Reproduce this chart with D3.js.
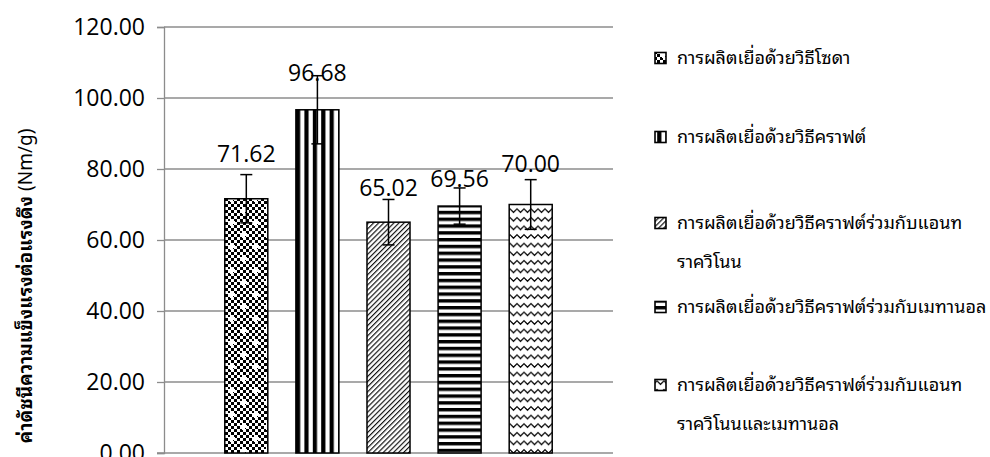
<!DOCTYPE html>
<html>
<head>
<meta charset="utf-8">
<script src="https://cdn.jsdelivr.net/npm/d3@7"></script>
<style>
  html, body { margin: 0; padding: 0; background: #fff; }
  svg { display: block; }
</style>
</head>
<body>
<div id="chart"></div>
<script>
// Pulping methods (one bar each)
const series = [
  "การผลิตเยื่อด้วยวิธีโซดา",
  "การผลิตเยื่อด้วยวิธีคราฟต์",
  "การผลิตเยื่อด้วยวิธีคราฟต์ร่วมกับแอนทราควิโนน",
  "การผลิตเยื่อด้วยวิธีคราฟต์ร่วมกับเมทานอล",
  "การผลิตเยื่อด้วยวิธีคราฟต์ร่วมกับแอนทราควิโนนและเมทานอล"
];
// Legend text as it wraps in the legend box
const legendLines = [
  ["การผลิตเยื่อด้วยวิธีโซดา"],
  ["การผลิตเยื่อด้วยวิธีคราฟต์"],
  ["การผลิตเยื่อด้วยวิธีคราฟต์ร่วมกับแอนท", "ราควิโนน"],
  ["การผลิตเยื่อด้วยวิธีคราฟต์ร่วมกับเมทานอล"],
  ["การผลิตเยื่อด้วยวิธีคราฟต์ร่วมกับแอนท", "ราควิโนนและเมทานอล"]
];
// Tensile index (Nm/g) and its standard deviation
const values = [71.62, 96.68, 65.02, 69.56, 70.00];
const errors = [6.8, 9.6, 6.4, 5.1, 7.0];
const yTicks = [0, 20, 40, 60, 80, 100, 120];
const yTitleThai = "ค่าดัชนีความแข็งแรงต่อแรงดึง";
const yTitleUnit = " (Nm/g)";

// Layout
const W = 990, H = 457;
const plot = { left: 164, right: 613, top: 27, bottom: 453 };
const labelLift = [37, 29, 26, 19, 33];   // value label baseline above bar top
const legendX = 655;
const legendY = [58, 137, 223, 307, 385];
const legendLineGap = 39;

const numFont = "'Open Sans', 'Liberation Sans', sans-serif";
const thaiFont = "'Noto Sans Thai Looped', 'Tlwg Typo', 'Loma', 'Garuda', 'Noto Sans Thai', 'Noto Sans', sans-serif";
const gridColor = "#8c8c8c";

const svg = d3.select("#chart").append("svg")
  .attr("width", W).attr("height", H);

// ---- fill patterns ----
const defs = svg.append("defs");

// 1: small checkerboard with white crosses
(function () {
  const p = defs.append("pattern").attr("id", "pat0")
    .attr("patternUnits", "userSpaceOnUse")
    .attr("x", 225).attr("y", 0)
    .attr("width", 24).attr("height", 24);
  p.append("rect").attr("width", 24).attr("height", 24).attr("fill", "#fff");
  for (let i = 0; i < 8; i++) {
    for (let j = 0; j < 8; j++) {
      if ((i + j) % 2 === 0) {
        p.append("rect").attr("x", i * 3).attr("y", j * 3)
          .attr("width", 3).attr("height", 3).attr("fill", "#000");
      }
    }
  }
  [[6, 6], [18, 18]].forEach(([cx, cy]) => {
    p.append("rect").attr("x", cx - 3).attr("y", cy - 1).attr("width", 7).attr("height", 3).attr("fill", "#fff");
    p.append("rect").attr("x", cx - 1).attr("y", cy - 3).attr("width", 3).attr("height", 7).attr("fill", "#fff");
  });
})();

// 2: wide vertical stripes
(function () {
  const p = defs.append("pattern").attr("id", "pat1")
    .attr("patternUnits", "userSpaceOnUse")
    .attr("x", 296).attr("y", 0)
    .attr("width", 8.4).attr("height", 8);
  p.append("rect").attr("width", 8.4).attr("height", 8).attr("fill", "#fff");
  p.append("rect").attr("x", 0).attr("width", 4.2).attr("height", 8).attr("fill", "#000");
})();

// 3: upward diagonal hatching
(function () {
  const p = defs.append("pattern").attr("id", "pat2")
    .attr("patternUnits", "userSpaceOnUse")
    .attr("width", 3.6).attr("height", 10)
    .attr("patternTransform", "rotate(45)");
  p.append("rect").attr("width", 3.6).attr("height", 10).attr("fill", "#fff");
  p.append("line").attr("x1", 0.6).attr("x2", 0.6).attr("y1", 0).attr("y2", 10)
    .attr("stroke", "#000").attr("stroke-width", 1.1);
})();

// 4: horizontal stripes
(function () {
  const p = defs.append("pattern").attr("id", "pat3")
    .attr("patternUnits", "userSpaceOnUse")
    .attr("x", 0).attr("y", 0)
    .attr("width", 8).attr("height", 6.8);
  p.append("rect").attr("width", 8).attr("height", 6.8).attr("fill", "#fff");
  p.append("rect").attr("y", 0).attr("width", 8).attr("height", 3.4).attr("fill", "#000");
})();

// 5: zigzag waves
(function () {
  const p = defs.append("pattern").attr("id", "pat4")
    .attr("patternUnits", "userSpaceOnUse")
    .attr("x", 510).attr("y", 0)
    .attr("width", 7).attr("height", 8.6);
  p.append("rect").attr("width", 7).attr("height", 8.6).attr("fill", "#fff");
  p.append("path").attr("d", "M-1,1.5 L0,2.5 L3.5,6 L7,2.5 L8,1.5")
    .attr("fill", "none").attr("stroke", "#000").attr("stroke-width", 1.3);
})();

// ---- scales ----
const x = d3.scaleBand().domain(series)
  .range([plot.left, plot.right])
  .paddingInner(0.395).paddingOuter(0.855);
const y = d3.scaleLinear().domain([0, 120]).range([plot.bottom, plot.top]);

// ---- gridlines ----
svg.append("g").selectAll("line").data(yTicks.filter(t => t > 0)).join("line")
  .attr("x1", plot.left).attr("x2", plot.right)
  .attr("y1", d => y(d)).attr("y2", d => y(d))
  .attr("stroke", gridColor).attr("stroke-width", 1.3);

// ---- y axis ----
const yAxis = svg.append("g").attr("transform", `translate(${plot.left},0)`)
  .call(d3.axisLeft(y).tickValues(yTicks).tickFormat(d3.format(".2f")).tickSize(7).tickPadding(12));
yAxis.select(".domain").attr("stroke", gridColor).attr("stroke-width", 1.3);
yAxis.selectAll(".tick line").attr("stroke", gridColor).attr("stroke-width", 1.3);
yAxis.selectAll(".tick text")
  .attr("font-family", numFont).attr("font-size", 23).attr("fill", "#000");

// ---- baseline ----
svg.append("line")
  .attr("x1", plot.left - 7).attr("x2", plot.right)
  .attr("y1", y(0)).attr("y2", y(0))
  .attr("stroke", gridColor).attr("stroke-width", 1.3);

// ---- bars ----
svg.append("g").selectAll("rect").data(series).join("rect")
  .attr("x", d => x(d))
  .attr("y", (d, i) => y(values[i]))
  .attr("width", x.bandwidth())
  .attr("height", (d, i) => y(0) - y(values[i]))
  .attr("fill", (d, i) => `url(#pat${i})`)
  .attr("stroke", "#000").attr("stroke-width", 1.5);

// ---- error bars ----
const eb = svg.append("g").attr("stroke", "#000").attr("stroke-width", 1.5);
series.forEach((s, i) => {
  const cx = x(s) + x.bandwidth() / 2;
  const hi = y(values[i] + errors[i]), lo = y(values[i] - errors[i]);
  eb.append("line").attr("x1", cx).attr("x2", cx).attr("y1", hi).attr("y2", lo);
  eb.append("line").attr("x1", cx - 6).attr("x2", cx + 6).attr("y1", hi).attr("y2", hi);
  eb.append("line").attr("x1", cx - 6).attr("x2", cx + 6).attr("y1", lo).attr("y2", lo);
});

// ---- value labels ----
svg.append("g").selectAll("text").data(series).join("text")
  .attr("x", d => x(d) + x.bandwidth() / 2)
  .attr("y", (d, i) => y(values[i]) - labelLift[i])
  .attr("text-anchor", "middle")
  .attr("font-family", numFont).attr("font-size", 23).attr("fill", "#000")
  .text((d, i) => values[i].toFixed(2));

// ---- y axis title ----
const yTitle = svg.append("text")
  .attr("transform", "translate(32,286) rotate(-90)")
  .attr("text-anchor", "middle")
  .attr("font-family", thaiFont).attr("font-size", 19).attr("fill", "#000");
yTitle.append("tspan").attr("font-weight", "bold").text(yTitleThai);
yTitle.append("tspan").attr("font-weight", "normal").text(yTitleUnit);

// ---- legend ----
const lg = svg.append("g");
series.forEach((s, i) => {
  const cy = legendY[i];
  lg.append("rect")
    .attr("x", legendX).attr("y", cy - 5.5).attr("width", 11).attr("height", 11)
    .attr("fill", `url(#pat${i})`).attr("stroke", "#000").attr("stroke-width", 1.6);
  legendLines[i].forEach((line, k) => {
    lg.append("text")
      .attr("x", legendX + 22).attr("y", cy + k * legendLineGap)
      .attr("dy", "0.35em")
      .attr("font-family", thaiFont).attr("font-size", 18).attr("fill", "#000")
      .text(line);
  });
});
</script>
</body>
</html>
